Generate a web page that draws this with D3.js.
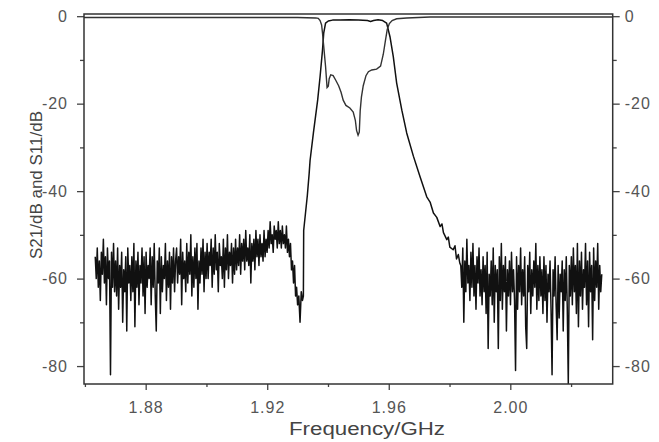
<!DOCTYPE html>
<html>
<head>
<meta charset="utf-8">
<script src="https://cdn.jsdelivr.net/npm/d3@7"></script>
<style>
body { margin: 0; background: #fff; }
text { font-family: "Liberation Sans", Arial, sans-serif; }
</style>
</head>
<body>
<script>
// tick labels
var xMajor = [1.88, 1.92, 1.96, 2.00];
var xMinor = [1.86, 1.90, 1.94, 1.98, 2.02];
var yMajor = [0, -20, -40, -60, -80];
var yMinor = [-10, -30, -50, -70];

// S21 noise floor below the passband, swept from 1.8634 to 1.9300 GHz
var s21LowStart = 1.8634, s21LowEnd = 1.9300;
var s21Low = [
	-55,-60,-53,-62,-56,-65,-54,-59,-51,-61,-55,-66,-53,-60,-56,-82,-54,-62,-52,-63,
	-56,-64,-53,-67,-57,-62,-54,-70,-58,-63,-55,-72,-53,-61,-57,-65,-55,-63,-52,-71,
	-56,-62,-54,-66,-57,-61,-53,-64,-55,-68,
	-54,-62,-57,-60,-53,-66,-55,-62,-52,-64,-72,-56,-61,-53,-68,-55,-63,-57,-60,-52,
	-65,-56,-62,-54,-67,-55,-61,-53,-63,-56,
	-53,-61,-55,-59,-51,-66,-54,-60,-56,-63,-52,-61,-54,-59,-50,-64,-55,-62,-53,-60,
	-52,-67,-56,-61,-53,-59,-51,-63,-54,-60,
	-52,-60,-54,-57,-51,-62,-53,-59,-50,-58,-54,-63,-52,-57,-55,-60,-51,-62,-53,-58,
	-50,-60,-54,-57,-52,-61,-53,-59,-51,-58,
	-53,-57,-50,-59,-52,-56,-51,-58,-49,-56,-53,-57,-50,-61,-52,-56,-51,-58,-49,-55,
	-51,-57,-50,-55,-52,-56,-49,-55,-51,-54,
	-49,-53,-47,-52,-50,-54,-48,-51,-49,-53,-47,-52,-49,-53,-48,-52,-50,-53,-48,-54,
	-51,-55,-52,-58,-56,-61,-57,-64,-62,-66
];

// S21 through the passband [GHz, dB]
var s21Band = [
	[1.9304,-64],[1.9308,-70],[1.9312,-63],[1.9316,-65],[1.9319,-64],[1.9320,-49],
	[1.9326,-45],[1.9332,-41],[1.9338,-36],[1.9341,-33],[1.9352,-26.7],[1.9366,-19.2],
	[1.9374,-13.8],[1.9382,-7.7],[1.9386,-3.8],[1.9392,-1.6],[1.9401,-1.1],[1.9415,-0.9],
	[1.9440,-0.9],[1.9470,-0.8],[1.9500,-0.9],[1.9530,-1.0],[1.9540,-1.2],[1.9550,-1.0],
	[1.9565,-0.8],[1.9580,-1.0],[1.9589,-1.4],[1.9593,-1.6],[1.9604,-4.7],[1.9615,-9.3],
	[1.9626,-15.3],[1.9643,-21.5],[1.9659,-26.7],[1.9681,-32],[1.9703,-36.7],[1.9725,-41.3],
	[1.9736,-42.5],[1.9747,-45],[1.9758,-46],[1.9769,-48.1],[1.9775,-47.5],[1.9780,-49.5],
	[1.9791,-51.1],[1.9796,-50.5],[1.9801,-52.8],[1.9812,-53.4],[1.9818,-52.5],[1.9823,-55.5],
	[1.9829,-54.5],[1.9834,-56.5]
];

// S21 noise floor above the passband, swept from 1.9837 to 2.0301 GHz
var s21HighStart = 1.9837, s21HighEnd = 2.0301;
var s21High = [
	-57,-62,-53,-70,-56,-63,-51,-61,-57,-65,-54,-62,-52,-64,-57,-67,-55,-61,-53,
	-64,-58,-66,-55,-63,-57,-68,-54,-76,-59,-64,-56,-66,-53,-70,-57,-63,-58,-76,-55,
	-65,-52,-67,-57,-63,-55,-72,-58,-64,-56,
	-66,-54,-63,-58,-65,-81,-55,-67,-57,-63,-53,-66,-58,-64,-55,-71,-76,-57,-63,-54,
	-68,-58,-64,-56,-62,-52,-67,-57,-65,-55,
	-64,-58,-68,-55,-65,-57,-70,-59,-63,-56,-67,-82,-58,-64,-55,-66,-74,-57,-69,-59,
	-63,-56,-72,-58,-65,-55,-67,-84,-57,-64,
	-55,-66,-53,-63,-57,-68,-52,-71,-56,-64,-54,-67,-58,-62,-52,-66,-56,-71,-54,-63,
	-57,-74,-53,-65,-56,-62,-52,-67,-57,-63,-59
];

// S11 [GHz, dB]
var s11 = [
	[1.8597,-0.3],[1.9300,-0.3],[1.9360,-0.4],[1.9368,-0.5],[1.9374,-1.0],[1.9379,-2.0],
	[1.9382,-3.9],[1.9387,-7.7],[1.9392,-11.5],[1.9397,-16.3],[1.9401,-16.0],[1.9404,-14.3],
	[1.9409,-13.4],[1.9417,-13.6],[1.9426,-14.7],[1.9435,-15.9],[1.9443,-17.4],[1.9450,-19.2],
	[1.9459,-20.4],[1.9472,-21.0],[1.9483,-21.9],[1.9490,-23.8],[1.9494,-26.1],[1.9499,-27.2],
	[1.9503,-26.5],[1.9506,-21.6],[1.9510,-18.5],[1.9516,-15.9],[1.9525,-13.6],[1.9533,-12.7],
	[1.9544,-12.3],[1.9560,-12.1],[1.9573,-11.4],[1.9582,-8.7],[1.9589,-5.6],[1.9595,-3.0],
	[1.9602,-1.7],[1.9611,-1.0],[1.9626,-0.6],[1.9659,-0.4],[1.9736,-0.2],[2.0337,-0.2]
];

var sweep = function(values, f0, f1){
	var step = (f1 - f0) / (values.length - 1);
	return values.map(function(v, i){ return [f0 + i * step, v]; });
};

var s21 = sweep(s21Low, s21LowStart, s21LowEnd)
	.concat(s21Band)
	.concat(sweep(s21High, s21HighStart, s21HighEnd));

var W = 659, H = 442;
var x = d3.scaleLinear().domain([1.8597, 2.0337]).range([84, 612.7]);
var y = d3.scaleLinear().domain([-84.1, 0.5]).range([384, 14]);

var svg = d3.select("body").append("svg")
	.attr("width", W)
	.attr("height", H);

svg.append("defs").append("clipPath").attr("id", "plot")
	.append("rect")
	.attr("x", x.range()[0]).attr("y", y.range()[1])
	.attr("width", x.range()[1] - x.range()[0])
	.attr("height", y.range()[0] - y.range()[1]);

var line = d3.line()
	.x(function(d){ return x(d[0]); })
	.y(function(d){ return y(d[1]); });

var traces = svg.append("g").attr("clip-path", "url(#plot)");

traces.append("path")
	.datum(s21)
	.attr("d", line)
	.attr("fill", "none")
	.attr("stroke", "#111")
	.attr("stroke-width", 1.5)
	.attr("stroke-linejoin", "round");

traces.append("path")
	.datum(s11)
	.attr("d", line)
	.attr("fill", "none")
	.attr("stroke", "#333")
	.attr("stroke-width", 1.4);

var fmtY = function(d){ return String(d); };
var fmtX = d3.format(".2f");

var styleAxis = function(g){
	g.select(".domain").remove();
	g.selectAll(".tick line").attr("stroke", "#444").attr("stroke-width", 1.3);
	g.selectAll(".tick text")
		.attr("fill", "#555")
		.style("font-size", "16px")
		.style("letter-spacing", "1px");
};

// major + minor ticks on all three labelled sides
svg.append("g").attr("transform", "translate(" + x.range()[0] + ",0)")
	.call(d3.axisLeft(y).tickValues(yMajor).tickSize(7).tickPadding(9).tickFormat(fmtY))
	.call(styleAxis);
svg.append("g").attr("transform", "translate(" + x.range()[0] + ",0)")
	.call(d3.axisLeft(y).tickValues(yMinor).tickSize(4).tickFormat(""))
	.call(styleAxis);

svg.append("g").attr("transform", "translate(" + x.range()[1] + ",0)")
	.call(d3.axisRight(y).tickValues(yMajor).tickSize(7).tickPadding(5).tickFormat(fmtY))
	.call(styleAxis);
svg.append("g").attr("transform", "translate(" + x.range()[1] + ",0)")
	.call(d3.axisRight(y).tickValues(yMinor).tickSize(4).tickFormat(""))
	.call(styleAxis);

svg.append("g").attr("transform", "translate(0," + y.range()[0] + ")")
	.call(d3.axisBottom(x).tickValues(xMajor).tickSize(6).tickPadding(12).tickFormat(fmtX))
	.call(styleAxis);
svg.append("g").attr("transform", "translate(0," + y.range()[0] + ")")
	.call(d3.axisBottom(x).tickValues(xMinor).tickSize(3).tickFormat(""))
	.call(styleAxis);

// frame
svg.append("rect")
	.attr("x", x.range()[0]).attr("y", y.range()[1])
	.attr("width", x.range()[1] - x.range()[0])
	.attr("height", y.range()[0] - y.range()[1])
	.attr("fill", "none")
	.attr("stroke", "#333")
	.attr("stroke-width", 1.5);

svg.append("text")
	.attr("x", 367).attr("y", 435)
	.attr("text-anchor", "middle")
	.attr("fill", "#444")
	.attr("textLength", 156)
	.attr("lengthAdjust", "spacingAndGlyphs")
	.style("font-size", "18px")
	.text("Frequency/GHz");

svg.append("text")
	.attr("transform", "translate(42,185) rotate(-90)")
	.attr("text-anchor", "middle")
	.attr("fill", "#444")
	.attr("textLength", 148)
	.attr("lengthAdjust", "spacingAndGlyphs")
	.style("font-size", "16.5px")
	.text("S21/dB and S11/dB");
</script>
</body>
</html>
